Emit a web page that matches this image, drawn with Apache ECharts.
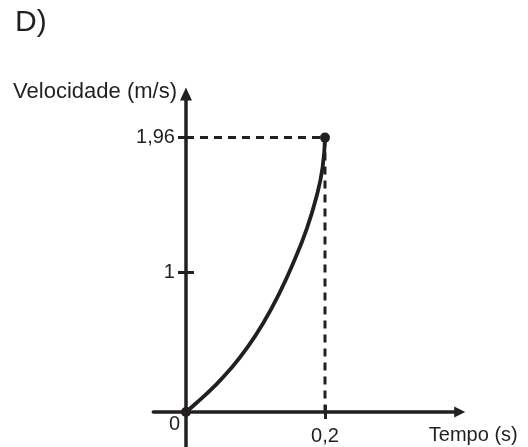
<!DOCTYPE html>
<html>
<head>
<meta charset="utf-8">
<script src="https://cdn.jsdelivr.net/npm/echarts@6/dist/echarts.min.js"></script>
<style>
  html, body { margin: 0; padding: 0; background: #ffffff; }
  #chart { width: 528px; height: 447px; }
</style>
</head>
<body>
<div id="chart"></div>
<script>
// Speed (m/s) against time (s): concave-up curve from rest to 1,96 m/s at 0,2 s
const curveTime  = [0, 0.0154, 0.0393, 0.0633, 0.0873, 0.111, 0.135, 0.154, 0.174, 0.188, 0.1965, 0.2];
const curveSpeed = [0, 0.066, 0.176, 0.303, 0.454, 0.634, 0.855, 1.060, 1.312, 1.543, 1.747, 1.96];

const finalTime = 0.2;
const finalSpeed = 1.96;

const xTickValues = [0, 0.2];
const xTickLabels = ['0', '0,2'];
const yTickValues = [1, 1.96];
const yTickLabels = ['1', '1,96'];

const ink = '#231f20';
const font = '"Liberation Sans", Arial, Helvetica, sans-serif';

const curveData = curveTime.map((t, i) => [t, curveSpeed[i]]);
const guideData = [[0, finalSpeed], [finalTime, finalSpeed], [finalTime, 0]];
const pointData = [[0, 0], [finalTime, finalSpeed]];

// Shared plot frame (two identical grids so the ticks cross the axes)
const frame = { left: 153.3, width: 306.4, top: 94, height: 358 };
const xRange = { min: -0.047, max: 0.3938 };
const yRange = { min: -0.2857, max: 2.2714 };

// The axes run through the origin; shift them there from the grid edges
// so that their labels travel with them.
const yAxisShift = -(0 - xRange.min) / (xRange.max - xRange.min) * frame.width;
const xAxisShift = -(0 - yRange.min) / (yRange.max - yRange.min) * frame.height;

function xLabel(v) {
  const i = xTickValues.indexOf(v);
  const txt = i >= 0 ? xTickLabels[i] : '';
  return v === 0 ? '{z|' + txt + '}' : '{v|' + txt + '}';
}
function yLabel(v) {
  const i = yTickValues.indexOf(v);
  return i >= 0 ? yTickLabels[i] : '';
}

const chart = echarts.init(document.getElementById('chart'), null, { renderer: 'canvas' });

const gridBase = { containLabel: false, outerBoundsMode: 'none' };

chart.setOption({
  animation: false,
  backgroundColor: '#ffffff',
  title: {
    text: 'D)',
    left: 10,
    top: 3,
    textStyle: { fontFamily: font, fontSize: 30, fontWeight: 'normal', color: ink }
  },
  grid: [
    Object.assign({}, gridBase, frame),
    Object.assign({}, gridBase, frame)
  ],
  xAxis: [
    {
      type: 'value', gridIndex: 0, min: xRange.min, max: xRange.max,
      position: 'bottom', offset: xAxisShift,
      name: 'Tempo (s)', nameLocation: 'end', nameGap: 58,
      nameTextStyle: { fontFamily: font, fontSize: 20, color: ink, align: 'right', verticalAlign: 'top', padding: [13, 0, 0, 0] },
      axisLine: { show: true, onZero: false, symbol: ['none', 'triangle'], symbolSize: [11, 11], lineStyle: { color: ink, width: 3.5 } },
      axisTick: { show: true, inside: false, length: 7, customValues: [finalTime], lineStyle: { color: ink, width: 3 } },
      axisLabel: {
        show: true, margin: 2, customValues: xTickValues, formatter: xLabel,
        fontFamily: font, fontSize: 20, color: ink,
        rich: {
          z: { fontFamily: font, fontSize: 20, color: ink, padding: [0, 23, 0, 0] },
          v: { fontFamily: font, fontSize: 20, color: ink, padding: [12, 0, 0, 0] }
        }
      },
      splitLine: { show: false }
    },
    {
      type: 'value', gridIndex: 1, min: xRange.min, max: xRange.max,
      position: 'bottom', offset: xAxisShift,
      axisLine: { show: false, onZero: false },
      axisTick: { show: true, inside: true, length: 7, customValues: [finalTime], lineStyle: { color: ink, width: 3 } },
      axisLabel: { show: false },
      splitLine: { show: false }
    }
  ],
  yAxis: [
    {
      type: 'value', gridIndex: 0, min: yRange.min, max: yRange.max,
      position: 'left', offset: yAxisShift,
      name: 'Velocidade (m/s)', nameLocation: 'end', nameGap: 2,
      nameTextStyle: { fontFamily: font, fontSize: 22, color: ink, align: 'right', verticalAlign: 'middle', padding: [0, 9, 0, 0] },
      axisLine: { show: true, onZero: false, symbol: ['none', 'triangle'], symbolSize: [12, 13], lineStyle: { color: ink, width: 3.5 } },
      axisTick: { show: true, inside: false, length: 8, customValues: yTickValues, lineStyle: { color: ink, width: 3 } },
      axisLabel: {
        show: true, margin: 11, customValues: yTickValues, formatter: yLabel,
        fontFamily: font, fontSize: 20, color: ink
      },
      splitLine: { show: false }
    },
    {
      type: 'value', gridIndex: 1, min: yRange.min, max: yRange.max,
      position: 'left', offset: yAxisShift,
      axisLine: { show: false, onZero: false },
      axisTick: { show: true, inside: true, length: 8, customValues: yTickValues, lineStyle: { color: ink, width: 3 } },
      axisLabel: { show: false },
      splitLine: { show: false }
    }
  ],
  series: [
    {
      name: 'Velocidade', type: 'line', xAxisIndex: 0, yAxisIndex: 0,
      data: curveData, smooth: 0.5, showSymbol: false, z: 5,
      lineStyle: { color: ink, width: 3.8 }
    },
    {
      name: 'Guia', type: 'line', xAxisIndex: 0, yAxisIndex: 0,
      data: guideData, showSymbol: false, z: 4,
      lineStyle: { color: ink, width: 3, type: [8, 6] }
    },
    {
      name: 'Pontos', type: 'scatter', xAxisIndex: 0, yAxisIndex: 0,
      data: pointData, symbol: 'circle', symbolSize: 10, z: 6,
      itemStyle: { color: ink, opacity: 1 }
    }
  ]
});
</script>
</body>
</html>
